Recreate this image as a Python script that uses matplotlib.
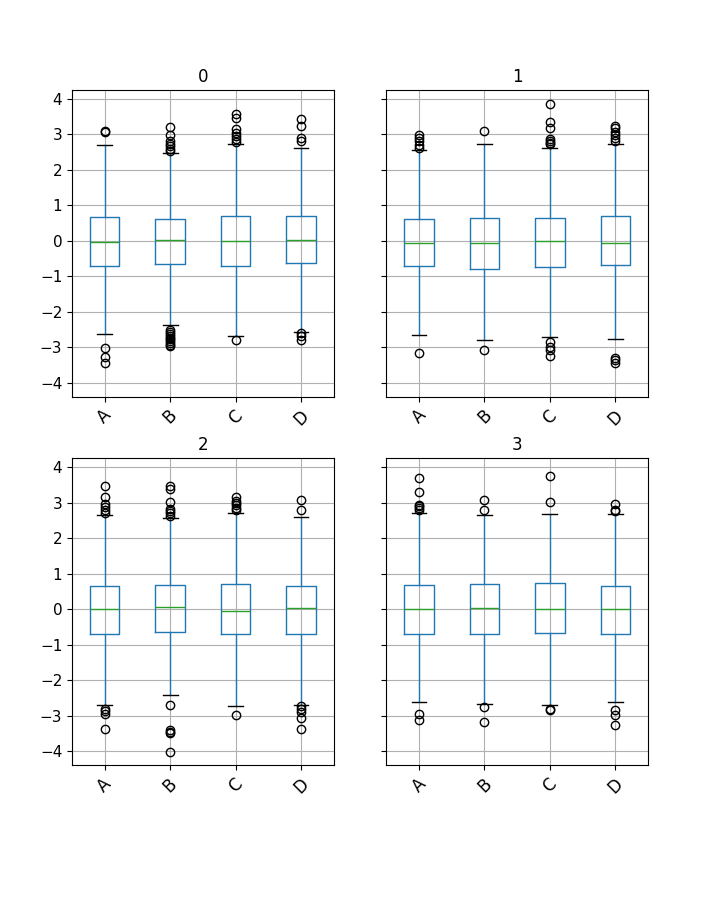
import matplotlib
matplotlib.use("Agg")
import matplotlib.pyplot as plt

groups = ["0", "1", "2", "3"]
columns = ["A", "B", "C", "D"]

# per group, per column: [whislo, q1, median, q3, whishi]
stats_0 = [[-2.63, -0.70, -0.03, 0.67, 2.70],
           [-2.38, -0.65, 0.02, 0.61, 2.48],
           [-2.69, -0.70, -0.01, 0.70, 2.73],
           [-2.57, -0.63, 0.02, 0.70, 2.63]]
stats_1 = [[-2.66, -0.70, -0.06, 0.61, 2.55],
           [-2.79, -0.80, -0.06, 0.64, 2.72],
           [-2.71, -0.74, 0.00, 0.64, 2.62],
           [-2.76, -0.68, -0.06, 0.70, 2.72]]
stats_2 = [[-2.69, -0.70, 0.00, 0.64, 2.65],
           [-2.43, -0.64, 0.05, 0.67, 2.56],
           [-2.74, -0.69, -0.06, 0.70, 2.70],
           [-2.69, -0.70, 0.02, 0.64, 2.59]]
stats_3 = [[-2.62, -0.70, 0.00, 0.67, 2.72],
           [-2.66, -0.69, 0.02, 0.70, 2.65],
           [-2.71, -0.66, 0.00, 0.73, 2.68],
           [-2.62, -0.70, 0.00, 0.64, 2.68]]

fliers_0 = [[3.07, 3.09, -3.02, -3.28, -3.45],
            [3.21, 2.99, 2.80, 2.72, 2.66, 2.59, 2.54,
             -2.52, -2.57, -2.62, -2.67, -2.72, -2.77, -2.82, -2.87, -2.92, -2.97],
            [3.57, 3.47, 3.15, 3.05, 2.96, 2.87, 2.78, -2.80],
            [3.43, 3.25, 2.91, 2.80, -2.60, -2.69, -2.79]]
fliers_1 = [[2.99, 2.89, 2.80, 2.70, 2.63, -3.16],
            [3.10, -3.07],
            [3.86, 3.34, 3.17, 2.87, 2.82, 2.77, 2.72, -2.85, -2.99, -3.07, -3.24],
            [3.25, 3.17, 3.08, 2.99, 2.89, 2.82, -3.30, -3.36, -3.43]]
fliers_2 = [[3.46, 3.15, 2.96, 2.87, 2.80, 2.72, -2.80, -2.87, -2.94, -3.38],
            [3.46, 3.38, 3.03, 2.83, 2.77, 2.70, 2.61, -2.71, -3.41, -3.46, -3.50, -4.01],
            [3.15, 3.05, 2.99, 2.92, 2.86, 2.80, -2.97],
            [3.08, 2.80, -2.73, -2.80, -2.89, -3.08, -3.38]]
fliers_3 = [[3.69, 3.31, 2.94, 2.89, 2.85, 2.80, -2.96, -3.13],
            [3.06, 2.78, -2.75, -3.19],
            [3.74, 3.02, -2.81, -2.85],
            [2.96, 2.80, 2.75, -2.85, -2.99, -3.25]]

all_stats = [stats_0, stats_1, stats_2, stats_3]
all_fliers = [fliers_0, fliers_1, fliers_2, fliers_3]

fig, axes = plt.subplots(2, 2, figsize=(7.2, 9), dpi=100, sharey=True)
fig.subplots_adjust(bottom=0.15, top=0.9, left=0.1, right=0.9, wspace=0.2, hspace=0.2)

for ax, name, st, fl in zip(axes.flat, groups, all_stats, all_fliers):
    bxpstats = []
    for col, s, f in zip(columns, st, fl):
        bxpstats.append(dict(label=col, whislo=s[0], q1=s[1], med=s[2], q3=s[3],
                             whishi=s[4], fliers=f))
    ax.bxp(bxpstats,
           boxprops=dict(color="#1f77b4"),
           whiskerprops=dict(color="#1f77b4"),
           medianprops=dict(color="#2ca02c"),
           capprops=dict(color="k"),
           flierprops=dict(marker="o", markerfacecolor="none", markeredgecolor="k"))
    ax.set_title(name)
    ax.grid(True)
    ax.set_axisbelow(True)
    ax.tick_params(axis="x", labelrotation=45, labelsize=12)
    ax.tick_params(axis="y", labelsize=11)

axes[0, 0].set_ylim(-4.39, 4.25)
fig.savefig("out.png", dpi=100)
